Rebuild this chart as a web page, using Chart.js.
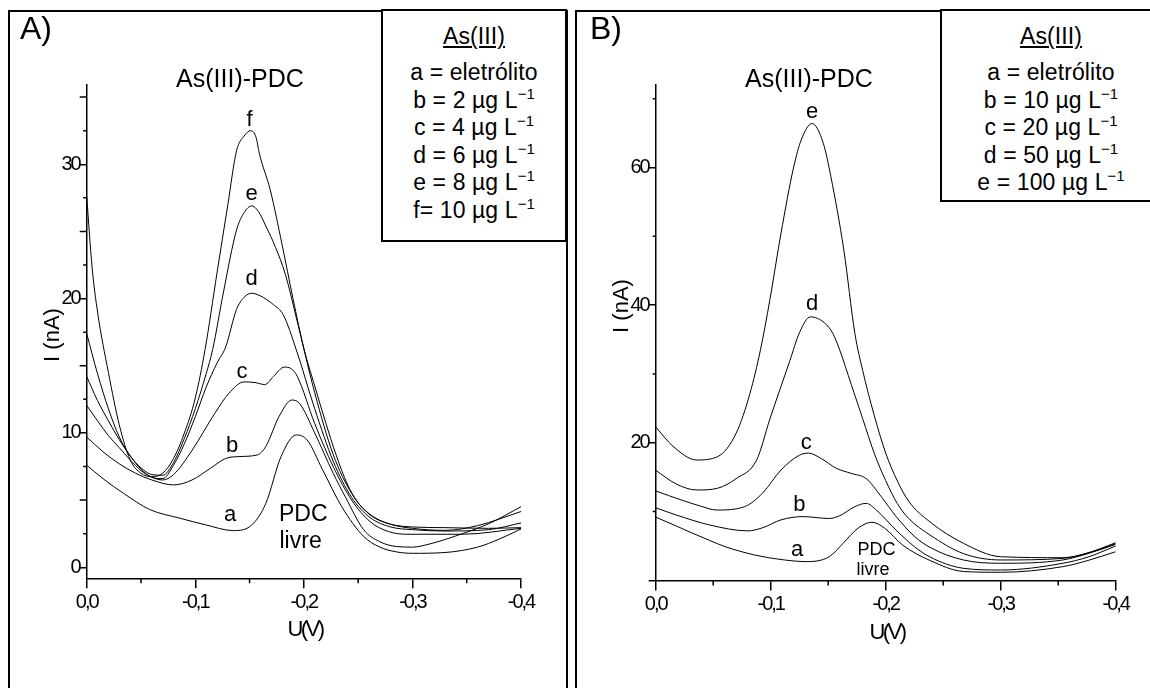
<!DOCTYPE html>
<html>
<head>
<meta charset="utf-8">
<script src="https://cdn.jsdelivr.net/npm/chart.js@4.4.1/dist/chart.umd.min.js"></script>
<style>
  body { margin: 0; background: #fff; }
  #page { position: relative; width: 1150px; height: 688px; overflow: hidden; font-family: "Liberation Sans", Arial, sans-serif; color: #000; }
  canvas { position: absolute; left: 0; top: 0; }
  .frame { position: absolute; border: 2px solid #000; box-sizing: border-box; }
  .legend { position: absolute; border: 2px solid #000; box-sizing: border-box; background: #fff; overflow: hidden;
            text-align: center; font-size: 23px; line-height: 27.5px; padding-top: 12px; letter-spacing: 0.1px; z-index: 2; }
  .legend .hd { margin-bottom: 8.5px; }
  .legend sup { font-size: 15px; vertical-align: 9px; line-height: 0; letter-spacing: 0; }
</style>
</head>
<body>
<div id="page">
  <div class="frame" style="left:8px;top:10px;width:560px;height:700px"></div>
  <div class="frame" style="left:575px;top:10px;width:600px;height:700px"></div>
  <canvas id="chartA" width="1150" height="688"></canvas>
  <canvas id="chartB" width="1150" height="688"></canvas>
  <div class="legend" style="left:381px;top:9px;width:186px;height:233px">
    <div class="hd"><u>As(III)</u></div>
    <div>a = eletrólito</div>
    <div>b = 2 µg L<sup>−1</sup></div>
    <div>c = 4 µg L<sup>−1</sup></div>
    <div>d = 6 µg L<sup>−1</sup></div>
    <div>e = 8 µg L<sup>−1</sup></div>
    <div>f= 10 µg L<sup>−1</sup></div>
  </div>
  <div class="legend" style="left:940px;top:9px;width:222px;height:193px">
    <div class="hd"><u>As(III)</u></div>
    <div>a = eletrólito</div>
    <div>b = 10 µg L<sup>−1</sup></div>
    <div>c = 20 µg L<sup>−1</sup></div>
    <div>d = 50 µg L<sup>−1</sup></div>
    <div>e = 100 µg L<sup>−1</sup></div>
  </div>
</div>
<script>
// ---- Panel A: 0 - 10 ug/L ----
const A_a_U = [0, -0.015, -0.034, -0.058, -0.086, -0.11, -0.135, -0.152, -0.165, -0.179, -0.193, -0.203, -0.217, -0.235, -0.255, -0.27, -0.285, -0.3, -0.33, -0.36, -0.38, -0.4];
const A_a_I = [7.6, 6.6, 5.5, 4.3, 3.65, 3.15, 2.73, 3.15, 4.76, 8.24, 9.85, 9.48, 7.3, 4.5, 2.3, 1.5, 1.15, 1.04, 1.1, 1.5, 2.1, 2.85];

const A_b_U = [0, -0.015, -0.03, -0.045, -0.06, -0.08, -0.097, -0.114, -0.128, -0.14, -0.157, -0.165, -0.177, -0.189, -0.196, -0.21, -0.227, -0.2385, -0.255, -0.27, -0.285, -0.3, -0.316, -0.347, -0.371, -0.4];
const A_b_I = [9.7, 8.6, 7.7, 7.0, 6.5, 6.13, 6.5, 7.37, 8.1, 8.24, 8.36, 9.0, 11.2, 12.45, 12.2, 10.0, 7.0, 5.2, 2.8, 1.9, 1.55, 1.5, 1.74, 2.53, 3.27, 4.51];

const A_c_U = [0, -0.01, -0.02, -0.03, -0.04, -0.05, -0.06, -0.07, -0.08, -0.097, -0.118, -0.131, -0.145, -0.155, -0.164, -0.172, -0.182, -0.188, -0.194, -0.21, -0.227, -0.244, -0.261, -0.278, -0.295, -0.346, -0.4];
const A_c_I = [12.05, 10.9, 9.8, 8.9, 8.0, 7.2, 6.7, 6.5, 6.9, 8.7, 11.46, 12.95, 13.8, 13.75, 13.6, 14.2, 14.9, 14.8, 14.2, 10.7, 7.5, 5.0, 3.4, 2.66, 2.46, 2.46, 2.9];

const A_d_U = [0, -0.01, -0.02, -0.03, -0.04, -0.05, -0.06, -0.07, -0.08, -0.09, -0.1, -0.11, -0.12, -0.128, -0.138, -0.145, -0.152, -0.16, -0.172, -0.181, -0.193, -0.21, -0.227, -0.244, -0.261, -0.28, -0.3, -0.33, -0.37, -0.4];
const A_d_I = [14.2, 12.4, 10.9, 9.5, 8.3, 7.3, 6.7, 6.6, 7.6, 9.2, 11.2, 13.4, 15.2, 16.4, 19.2, 20.1, 20.4, 20.2, 19.55, 18.8, 16.2, 11.8, 7.9, 5.2, 3.7, 3.0, 2.8, 2.7, 2.8, 3.3];

const A_e_U = [0, -0.01, -0.02, -0.03, -0.04, -0.05, -0.06, -0.07, -0.08, -0.09, -0.1, -0.11, -0.116, -0.126, -0.138, -0.145, -0.152, -0.158, -0.165, -0.174, -0.183, -0.193, -0.21, -0.227, -0.244, -0.261, -0.28, -0.3, -0.33, -0.36, -0.4];
const A_e_I = [17.4, 14.4, 11.8, 9.7, 8.3, 7.4, 6.9, 6.85, 7.8, 9.6, 11.8, 14.4, 16.2, 20.5, 25.1, 26.4, 26.9, 26.5, 25.4, 23.8, 21.8, 18.6, 13.0, 8.4, 5.5, 3.9, 3.2, 2.9, 2.75, 3.1, 4.15];

const A_f_U = [0, -0.005, -0.01, -0.02, -0.03, -0.04, -0.05, -0.06, -0.07, -0.08, -0.09, -0.1, -0.109, -0.12, -0.13, -0.138, -0.145, -0.151, -0.156, -0.159, -0.169, -0.18, -0.19, -0.2, -0.21, -0.22, -0.23, -0.24, -0.25, -0.26, -0.27, -0.28, -0.3, -0.33, -0.37, -0.4];
const A_f_I = [27.6, 22.3, 19.0, 14.5, 10.6, 8.0, 7.0, 6.75, 7.0, 8.1, 10.0, 12.6, 16.2, 21.9, 27.0, 31.0, 32.1, 32.5, 32.0, 30.8, 28.1, 24.0, 20.0, 16.3, 13.5, 10.8, 8.3, 6.2, 4.8, 4.0, 3.5, 3.2, 3.0, 2.95, 2.9, 2.95];

// ---- Panel B: 0 - 100 ug/L ----
const B_a_U = [0, -0.018, -0.0315, -0.047, -0.0605, -0.086, -0.112, -0.131, -0.151, -0.163, -0.176, -0.188, -0.199, -0.215, -0.2385, -0.2675, -0.3, -0.354, -0.376, -0.4];
const B_a_I = [9.2, 7.9, 6.9, 5.8, 4.9, 3.7, 2.97, 2.73, 3.45, 5.4, 7.6, 8.45, 7.6, 5.1, 2.9, 1.3, 1.18, 2.0, 2.9, 4.17];

const B_b_U = [0, -0.018, -0.047, -0.08, -0.093, -0.109, -0.128, -0.151, -0.16, -0.173, -0.183, -0.192, -0.209, -0.225, -0.2385, -0.2675, -0.3, -0.354, -0.376, -0.4];
const B_b_I = [10.55, 9.5, 8.05, 7.2, 7.65, 8.8, 9.27, 9.0, 9.4, 10.7, 11.2, 10.2, 7.3, 4.9, 3.4, 1.76, 1.51, 2.49, 3.4, 5.0];

const B_c_U = [0, -0.022, -0.038, -0.053, -0.077, -0.093, -0.109, -0.125, -0.133, -0.144, -0.157, -0.17, -0.183, -0.196, -0.209, -0.225, -0.2385, -0.2675, -0.3, -0.354, -0.376, -0.4];
const B_c_I = [13.0, 11.7, 10.85, 10.23, 10.7, 12.7, 16.05, 18.2, 18.5, 17.7, 16.3, 15.55, 14.8, 12.2, 9.3, 6.4, 4.8, 2.97, 2.49, 2.97, 3.9, 5.24];

const B_d_U = [0, -0.018, -0.0357, -0.054, -0.07, -0.0878, -0.099, -0.1168, -0.125, -0.1345, -0.147, -0.154, -0.16, -0.17, -0.18, -0.19, -0.2, -0.21, -0.22, -0.2385, -0.2675, -0.3, -0.354, -0.376, -0.4];
const B_d_I = [16.0, 14.0, 13.14, 13.4, 14.8, 17.5, 23.3, 32.0, 36.0, 38.3, 37.4, 35.9, 33.5, 28.5, 23.5, 18.5, 14.5, 11.2, 9.0, 6.6, 3.9, 2.97, 3.2, 4.0, 5.35];

const B_e_U = [0, -0.015, -0.0357, -0.054, -0.07, -0.082, -0.0911, -0.0992, -0.1089, -0.12, -0.1265, -0.136, -0.1458, -0.1523, -0.1636, -0.1732, -0.18, -0.19, -0.2, -0.21, -0.22, -0.2385, -0.2675, -0.3, -0.354, -0.376, -0.4];
const B_e_I = [22.3, 19.5, 17.5, 18.0, 21.4, 27.2, 33.5, 40.7, 50.4, 60.1, 64.0, 66.4, 63.5, 58.7, 48.0, 35.9, 30.5, 24.0, 18.5, 14.5, 11.5, 8.5, 5.4, 3.44, 3.3, 4.0, 5.48];

// curve letters / notes, in data coordinates
const A_notes = [
  ['f', -0.150, 33.3], ['e', -0.152, 27.8], ['d', -0.152, 21.5],
  ['c', -0.143, 14.55], ['b', -0.134, 9.0], ['a', -0.132, 3.9]
];
const A_free = [['PDC', -0.1995, 3.9], ['livre', -0.197, 1.9]];
const B_notes = [
  ['e', -0.136, 68.1], ['d', -0.136, 40.2], ['c', -0.131, 20.0],
  ['b', -0.125, 10.96], ['a', -0.123, 4.5]
];
const B_free = [['PDC', -0.192, 4.42], ['livre', -0.189, 1.51]];

const FONT = '"Liberation Sans", Arial, sans-serif';

function pts(U, I) { return U.map((u, i) => ({ x: u, y: I[i] })); }
function curve(U, I) {
  return { data: pts(U, I), borderColor: '#000', borderWidth: 1, pointRadius: 0,
           cubicInterpolationMode: 'monotone', fill: false };
}
function fmtU(v) {
  if (Math.abs(v) < 1e-9) return '0,0';
  return v.toFixed(1).replace('.', ',');
}

// tight tick lettering like the original figure
const squeeze = {
  id: 'squeeze',
  beforeDraw(chart) { chart.ctx.letterSpacing = '-2px'; }
};

const minorTicks = {
  id: 'minorTicks',
  afterDraw(chart, args, opts) {
    const ctx = chart.ctx, xs = chart.scales.x, ys = chart.scales.y;
    const area = chart.chartArea;
    ctx.save();
    ctx.strokeStyle = '#000';
    ctx.lineWidth = 1.5;
    ctx.beginPath();
    opts.x.forEach(v => {
      const px = xs.getPixelForValue(v);
      ctx.moveTo(px, area.bottom); ctx.lineTo(px, area.bottom + 5);
    });
    opts.y.forEach(t => {
      const py = ys.getPixelForValue(t[0]);
      ctx.moveTo(area.left, py); ctx.lineTo(area.left - t[1], py);
    });
    ctx.stroke();
    ctx.restore();
  }
};

const texts = {
  id: 'texts',
  afterDraw(chart, args, opts) {
    const ctx = chart.ctx, xs = chart.scales.x, ys = chart.scales.y;
    ctx.save();
    ctx.fillStyle = '#000';
    ctx.letterSpacing = '0px';
    ctx.textAlign = 'center';
    ctx.textBaseline = 'middle';
    ctx.font = '22px ' + FONT;
    opts.notes.forEach(n => ctx.fillText(n[0], xs.getPixelForValue(n[1]), ys.getPixelForValue(n[2])));
    ctx.font = opts.freeSize + 'px ' + FONT;
    opts.free.forEach(n => ctx.fillText(n[0], xs.getPixelForValue(n[1]), ys.getPixelForValue(n[2])));
    // panel letter
    ctx.textAlign = 'left';
    ctx.textBaseline = 'alphabetic';
    ctx.font = '32px ' + FONT;
    ctx.fillText(opts.panel[0], opts.panel[1], opts.panel[2]);
    // plot title
    ctx.textAlign = 'center';
    ctx.textBaseline = 'middle';
    ctx.font = '25px ' + FONT;
    ctx.fillText('As(III)-PDC', opts.title[0], opts.title[1]);
    // axis titles
    ctx.font = '22px ' + FONT;
    ctx.save();
    ctx.translate(opts.yTitle[0], opts.yTitle[1]);
    ctx.rotate(-Math.PI / 2);
    ctx.fillText('I (nA)', 0, 0);
    ctx.restore();
    ctx.letterSpacing = '-2.5px';
    ctx.fillText('U(V)', opts.xTitle[0], opts.xTitle[1]);
    ctx.restore();
    ctx.letterSpacing = '0px';
  }
};

function makeChart(id, datasets, cfg) {
  return new Chart(document.getElementById(id), {
    type: 'line',
    data: { datasets },
    plugins: [squeeze, minorTicks, texts],
    options: {
      responsive: false,
      animation: false,
      devicePixelRatio: 1,
      layout: { padding: cfg.padding },
      plugins: {
        legend: { display: false },
        tooltip: { enabled: false },
        minorTicks: cfg.minor,
        texts: cfg.texts
      },
      scales: {
        x: {
          type: 'linear', reverse: true, min: -0.4, max: 0,
          afterFit: s => { s.height = 60; },
          border: { display: true, color: '#000', width: 1.5 },
          grid: { display: true, drawOnChartArea: false, drawTicks: true, tickLength: 10, color: '#000', lineWidth: 1.5 },
          ticks: { stepSize: 0.1, includeBounds: false, padding: 2, maxRotation: 0, autoSkip: false,
                   color: '#000', font: { size: 20, family: FONT }, callback: fmtU }
        },
        y: {
          type: 'linear', min: cfg.yMin, max: cfg.yMax,
          afterFit: s => { s.width = 60; },
          border: { display: true, color: '#000', width: 1.5 },
          grid: { display: true, drawOnChartArea: false, drawTicks: true, tickLength: 7, color: '#000', lineWidth: 1.5 },
          ticks: { stepSize: cfg.yStep, includeBounds: false, padding: 0, autoSkip: false,
                   color: '#000', font: { size: 20, family: FONT }, callback: cfg.yLabel }
        }
      }
    }
  });
}

makeChart('chartA', [
  curve(A_a_U, A_a_I), curve(A_b_U, A_b_I), curve(A_c_U, A_c_I),
  curve(A_d_U, A_d_I), curve(A_e_U, A_e_I), curve(A_f_U, A_f_I)
], {
  padding: { left: 26.7, right: 629, top: 85, bottom: 49.7 },
  yMin: -0.82, yMax: 35.9, yStep: 10,
  yLabel: v => String(v),
  minor: {
    x: [-0.05, -0.15, -0.25, -0.35],
    y: [[2.5, 3.5], [5, 7], [7.5, 3.5], [12.5, 3.5], [15, 7], [17.5, 3.5], [22.5, 3.5], [25, 7], [27.5, 3.5], [32.5, 3.5], [35, 7]]
  },
  texts: { notes: A_notes, free: A_free, freeSize: 23, panel: ['A)', 20, 39], title: [240, 80], yTitle: [52.5, 335], xTitle: [305, 630] }
});

makeChart('chartB', [
  curve(B_a_U, B_a_I), curve(B_b_U, B_b_I), curve(B_c_U, B_c_I),
  curve(B_d_U, B_d_I), curve(B_e_U, B_e_I)
], {
  padding: { left: 595.7, right: 34.3, top: 85, bottom: 47.6 },
  yMin: 0, yMax: 72, yStep: 20,
  yLabel: v => (v === 0 ? '' : String(v)),
  minor: {
    x: [-0.05, -0.15, -0.25, -0.35],
    y: [[10, 3], [30, 3], [50, 3], [70, 3]]
  },
  texts: { notes: B_notes, free: B_free, freeSize: 18, panel: ['B)', 590, 39], title: [809, 80], yTitle: [622, 306], xTitle: [887, 633] }
});
</script>
</body>
</html>
